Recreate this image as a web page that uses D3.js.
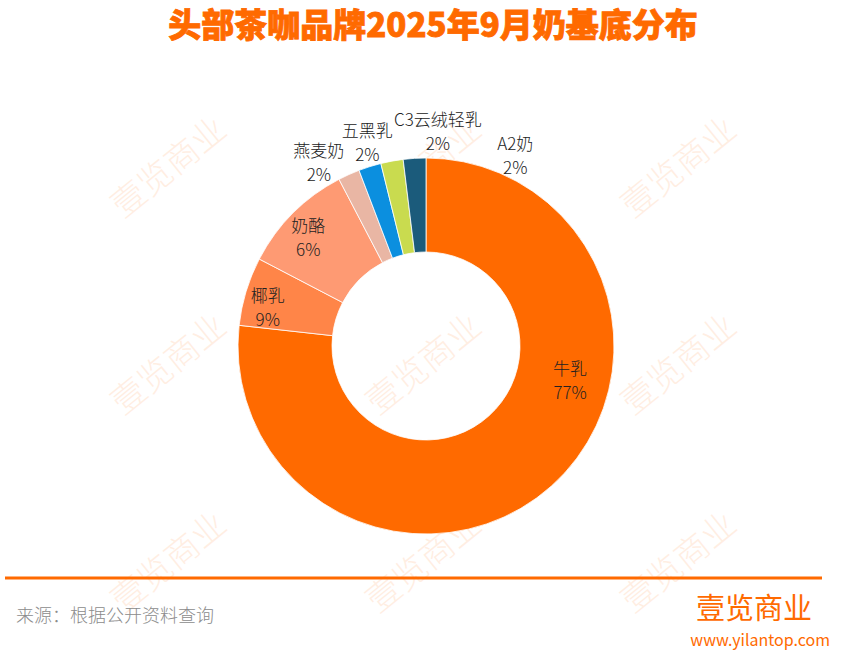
<!DOCTYPE html>
<html lang="zh">
	<head>
		<meta charset="utf-8">
		<title>头部茶咖品牌2025年9月奶基底分布</title>
		<script src="https://cdn.jsdelivr.net/npm/d3@7/dist/d3.min.js"></script>
		<style type="text/css">
			body { margin: 0; background: #fff; }
			text { font-family: "Noto Sans CJK SC", "Noto Sans", sans-serif; }
		</style>
	</head>
	<body>
		<script type="text/javascript">

			//Data
			var categories = ["牛乳", "椰乳", "奶酪", "燕麦奶", "五黑乳", "C3云绒轻乳", "A2奶"];
			var shares = [76.8, 5.9, 9.7, 1.86, 1.94, 1.92, 1.94];
			var shareLabels = ["77%", "9%", "6%", "2%", "2%", "2%", "2%"];
			var colors = ["#FF6A00", "#FF8548", "#FE9A73", "#E9B6A4", "#0B8FDF", "#C9DB4F", "#1B5B7B"];

			//Width and height
			var w = 844;
			var h = 657;
			var cx = 426, cy = 346;
			var outerR = 188, innerR = 94;

			var svg = d3.select("body")
						.append("svg")
						.attr("width", w)
						.attr("height", h);

			//Watermarks
			var wmX = [167, 422, 677];
			var wmY = [165, 362, 560];
			wmY.forEach(function(y) {
				wmX.forEach(function(x) {
					svg.append("text")
					   .text("壹览商业")
					   .attr("transform", "translate(" + x + "," + y + ") rotate(-39)")
					   .attr("text-anchor", "middle")
					   .attr("dominant-baseline", "central")
					   .attr("font-size", "34px")
					   .attr("font-weight", 300)
					   .attr("fill", "#FF6A00")
					   .attr("opacity", 0.11);
				});
			});

			//Title
			svg.append("text")
			   .text("头部茶咖品牌2025年9月奶基底分布")
			   .attr("x", 433)
			   .attr("y", 37)
			   .attr("text-anchor", "middle")
			   .attr("font-size", "33px")
			   .attr("font-weight", 900)
			   .attr("fill", "#FF6A00")
			   .attr("stroke", "#FF6A00")
			   .attr("stroke-width", 0.8);

			//Donut
			var pie = d3.pie().sort(null).value(function(d) { return d; });
			var arcs = pie(shares);
			var arc = d3.arc().innerRadius(innerR).outerRadius(outerR);

			var g = svg.append("g").attr("transform", "translate(" + cx + "," + cy + ")");

			g.selectAll("path")
			 .data(arcs)
			 .enter()
			 .append("path")
			 .attr("d", arc)
			 .attr("fill", function(d, i) { return colors[i]; })
			 .attr("stroke", "#fff")
			 .attr("stroke-width", 0.8);

			//Labels: small slices go outside, nudged apart like the original
			var labelR = [148, 163, 161, 213, 213, 216, 211];
			var nudge = [-35, -3, -2, -6, 1.4, 13.6, 28.5];
			var labels = g.selectAll("g.lbl")
			 .data(arcs)
			 .enter()
			 .append("g")
			 .attr("class", "lbl")
			 .attr("transform", function(d, i) {
			 	var a = (d.startAngle + d.endAngle) / 2 + nudge[i] * Math.PI / 180;
			 	return "translate(" + (labelR[i] * Math.sin(a)) + "," + (-labelR[i] * Math.cos(a)) + ")";
			 });

			labels.append("text")
			 .text(function(d, i) { return categories[i]; })
			 .attr("y", -12)
			 .attr("text-anchor", "middle")
			 .attr("dominant-baseline", "central")
			 .attr("font-size", "17px")
			 .attr("font-weight", 300)
			 .attr("fill", "#222");

			labels.append("text")
			 .text(function(d, i) { return shareLabels[i]; })
			 .attr("y", 12)
			 .attr("text-anchor", "middle")
			 .attr("dominant-baseline", "central")
			 .attr("font-size", "17px")
			 .attr("font-weight", 300)
			 .attr("fill", "#222");

			//Footer
			svg.append("line")
			   .attr("x1", 5).attr("x2", 822)
			   .attr("y1", 578).attr("y2", 578)
			   .attr("stroke", "#FF6A00")
			   .attr("stroke-width", 3);

			svg.append("text")
			   .text("来源：根据公开资料查询")
			   .attr("x", 16)
			   .attr("y", 622)
			   .attr("font-size", "18px")
			   .attr("font-weight", 300)
			   .attr("fill", "#8C8C8C");

			svg.append("text")
			   .text("壹览商业")
			   .attr("x", 812)
			   .attr("y", 619)
			   .attr("text-anchor", "end")
			   .attr("font-size", "29px")
			   .attr("fill", "#FF6A00");

			svg.append("text")
			   .text("www.yilantop.com")
			   .attr("x", 830)
			   .attr("y", 646)
			   .attr("text-anchor", "end")
			   .attr("font-size", "16px")
			   .attr("fill", "#FF6A00");

		</script>
	</body>
</html>
